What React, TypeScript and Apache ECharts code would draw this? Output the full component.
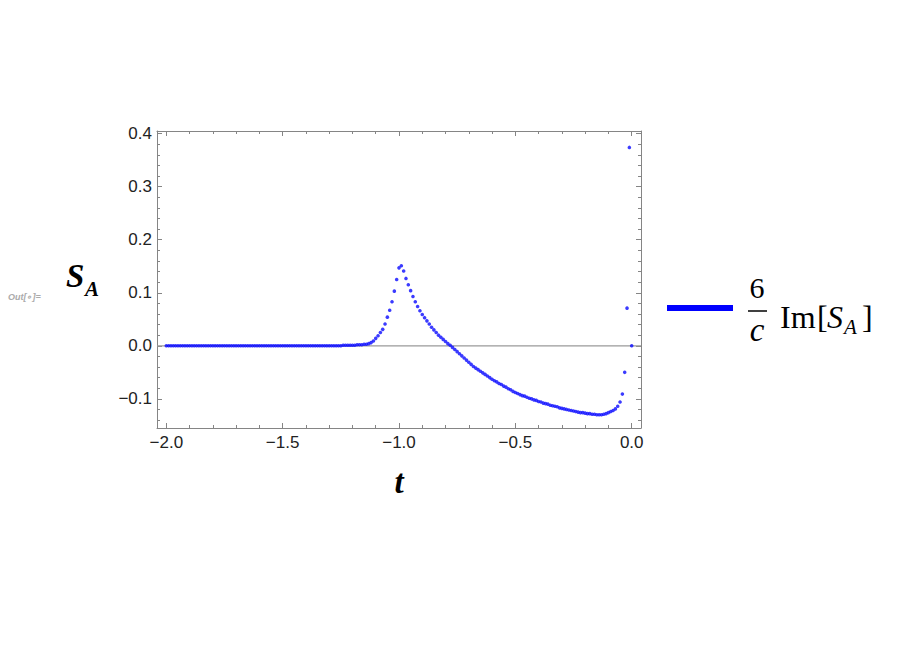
import React, { useEffect, useRef } from "react";
import * as echarts from "echarts";

// ---- data ----
const tFlat = [
  -2.0, -1.99, -1.98, -1.97, -1.96, -1.95, -1.94, -1.93, -1.92, -1.91,
  -1.9, -1.89, -1.88, -1.87, -1.86, -1.85, -1.84, -1.83, -1.82, -1.81,
  -1.8, -1.79, -1.78, -1.77, -1.76, -1.75, -1.74, -1.73, -1.72, -1.71,
  -1.7, -1.69, -1.68, -1.67, -1.66, -1.65, -1.64, -1.63, -1.62, -1.61,
  -1.6, -1.59, -1.58, -1.57, -1.56, -1.55, -1.54, -1.53, -1.52, -1.51,
  -1.5, -1.49, -1.48, -1.47, -1.46, -1.45, -1.44, -1.43, -1.42, -1.41,
  -1.4, -1.39, -1.38, -1.37, -1.36, -1.35, -1.34, -1.33, -1.32, -1.31,
  -1.3, -1.29, -1.28, -1.27, -1.26, -1.25, -1.24, -1.23, -1.22, -1.21,
];
const vFlat = [
  0, 0, 0, 0, 0, 0, 0, 0, 0, 0,
  0, 0, 0, 0, 0, 0, 0, 0, 0, 0,
  0, 0, 0, 0, 0, 0, 0, 0, 0, 0,
  0, 0, 0, 0, 0, 0, 0, 0, 0, 0,
  0, 0, 0, 0, 0, 0, 0, 0, 0, 0,
  0, 0, 0, 0, 0, 0, 0, 0, 0, 0,
  0, 0, 0, 0, 0, 0, 0, 0, 0, 0,
  0, 0, 0, 0, 0, 0, 0.001, 0.001, 0.001, 0.001,
];
const tRise = [
  -1.2, -1.19, -1.18, -1.17, -1.16, -1.15, -1.14, -1.13, -1.12, -1.11,
  -1.1, -1.09, -1.08, -1.07, -1.06, -1.05, -1.04, -1.03, -1.02, -1.01,
  -1.0, -0.99,
];
const vRise = [
  0.001, 0.001, 0.002, 0.002, 0.002, 0.003, 0.003, 0.004, 0.006, 0.009,
  0.014, 0.019, 0.025, 0.031, 0.041, 0.054, 0.067, 0.083, 0.103, 0.125,
  0.147, 0.151,
];
const tFall = [
  -0.98, -0.97, -0.96, -0.95, -0.94, -0.93, -0.92, -0.91, -0.9, -0.89,
  -0.88, -0.87, -0.86, -0.85, -0.84, -0.83, -0.82, -0.81, -0.8, -0.79,
  -0.78,
];
const vFall = [
  0.141, 0.127, 0.115, 0.104, 0.093, 0.083, 0.074, 0.066, 0.059, 0.053,
  0.047, 0.041, 0.035, 0.03, 0.025, 0.02, 0.016, 0.012, 0.008, 0.004,
  0.001,
];
const tDip = [
  -0.77, -0.76, -0.75, -0.74, -0.73, -0.72, -0.71, -0.7, -0.69, -0.68,
  -0.67, -0.66, -0.65, -0.64, -0.63, -0.62, -0.61, -0.6, -0.59, -0.58,
  -0.57, -0.56, -0.55, -0.54, -0.53, -0.52, -0.51, -0.5, -0.49, -0.48,
  -0.47, -0.46, -0.45, -0.44, -0.43, -0.42, -0.41, -0.4, -0.39, -0.38,
  -0.37, -0.36, -0.35, -0.34, -0.33, -0.32, -0.31, -0.3, -0.29, -0.28,
  -0.27, -0.26, -0.25, -0.24, -0.23, -0.22, -0.21, -0.2, -0.19, -0.18,
  -0.17, -0.16, -0.15, -0.14, -0.13, -0.12, -0.11, -0.1, -0.09, -0.08,
  -0.07, -0.06, -0.05,
];
const vDip = [
  -0.003, -0.007, -0.011, -0.015, -0.019, -0.023, -0.027, -0.031, -0.035, -0.039,
  -0.042, -0.045, -0.048, -0.051, -0.054, -0.057, -0.06, -0.063, -0.066, -0.068,
  -0.071, -0.073, -0.076, -0.078, -0.081, -0.083, -0.086, -0.088, -0.09, -0.092,
  -0.094, -0.095, -0.097, -0.099, -0.1, -0.102, -0.103, -0.105, -0.106, -0.108,
  -0.109, -0.11, -0.112, -0.113, -0.114, -0.115, -0.117, -0.118, -0.119, -0.12,
  -0.121, -0.122, -0.123, -0.124, -0.125, -0.126, -0.126, -0.127, -0.128, -0.128,
  -0.129, -0.129, -0.13, -0.13, -0.13, -0.129, -0.128, -0.126, -0.124, -0.122,
  -0.119, -0.114, -0.106,
];
const tEdge = [-0.04, -0.03, -0.02, -0.01, 0.0];
const vEdge = [-0.091, -0.05, 0.071, 0.374, 0.0];

// ---- axis ticks ----
const xMajor = [-2.0, -1.5, -1.0, -0.5, 0.0];
const xMinor = [
  -1.9, -1.8, -1.7, -1.6, -1.4, -1.3, -1.2, -1.1, -0.9, -0.8, -0.7, -0.6,
  -0.4, -0.3, -0.2, -0.1,
];
const yMajor = [-0.1, 0.0, 0.1, 0.2, 0.3, 0.4];
const yMinor = [
  -0.14, -0.12, -0.08, -0.06, -0.04, -0.02, 0.02, 0.04, 0.06, 0.08, 0.12,
  0.14, 0.16, 0.18, 0.22, 0.24, 0.26, 0.28, 0.32, 0.34, 0.36, 0.38,
];
const X_MIN = -2.04;
const X_MAX = 0.04;
const Y_MIN = -0.155;
const Y_MAX = 0.405;

const SANS = '"Liberation Sans", Arial, sans-serif';
const SERIF = '"Liberation Serif", "Times New Roman", serif';
const FRAME = "#858585";
const LABEL = "#222222";

const fmt = (v: number) => (v < 0 ? "\u2212" : "") + Math.abs(v).toFixed(1);

function xAxisDef(position: string, ticks: number[], len: number, labels: boolean, line: boolean) {
  return {
    type: "value",
    position,
    min: X_MIN,
    max: X_MAX,
    axisLine: { show: line, onZero: false, lineStyle: { color: FRAME, width: 1 } },
    axisTick: { show: true, inside: true, length: len, customValues: ticks, lineStyle: { color: FRAME, width: 1 } },
    axisLabel: labels
      ? { show: true, customValues: ticks, formatter: fmt, color: LABEL, fontSize: 17, fontFamily: SANS, margin: 6 }
      : { show: false },
    splitLine: { show: false },
  };
}
function yAxisDef(position: string, ticks: number[], len: number, labels: boolean, line: boolean) {
  return {
    type: "value",
    position,
    min: Y_MIN,
    max: Y_MAX,
    axisLine: { show: line, onZero: false, lineStyle: { color: FRAME, width: 1 } },
    axisTick: { show: true, inside: true, length: len, customValues: ticks, lineStyle: { color: FRAME, width: 1 } },
    axisLabel: labels
      ? { show: true, customValues: ticks, formatter: fmt, color: LABEL, fontSize: 17, fontFamily: SANS, margin: 5 }
      : { show: false },
    splitLine: { show: false },
  };
}

export default function App() {
  const ref = useRef<HTMLDivElement>(null);
  useEffect(() => {
    document.body.style.margin = "0";
    if (!ref.current) return;
    const chart = echarts.init(ref.current, null, { renderer: "svg" });
    const T = [...tFlat, ...tRise, ...tFall, ...tDip, ...tEdge];
    const V = [...vFlat, ...vRise, ...vFall, ...vDip, ...vEdge];
    const points = T.map((t, i) => [t, V[i]]);
    chart.setOption({
      animation: false,
      backgroundColor: "#ffffff",
      grid: { left: 157, top: 131, width: 484, height: 297 },
      xAxis: [
        xAxisDef("bottom", xMajor, 5, true, true),
        xAxisDef("bottom", xMinor, 3, false, false),
        xAxisDef("top", xMajor, 5, false, true),
        xAxisDef("top", xMinor, 3, false, false),
      ],
      yAxis: [
        yAxisDef("left", yMajor, 5, true, true),
        yAxisDef("left", yMinor, 3, false, false),
        yAxisDef("right", yMajor, 5, false, true),
        yAxisDef("right", yMinor, 3, false, false),
      ],
      series: [
        {
          type: "line",
          xAxisIndex: 0,
          yAxisIndex: 0,
          data: [
            [X_MIN, 0],
            [X_MAX, 0],
          ],
          symbol: "none",
          silent: true,
          lineStyle: { color: "#9a9a9a", width: 1.2 },
          z: 1,
        },
        {
          type: "scatter",
          xAxisIndex: 0,
          yAxisIndex: 0,
          data: points,
          symbol: "circle",
          symbolSize: 3.6,
          itemStyle: { color: "#0a0aff" },
          silent: true,
          z: 2,
        },
      ],
      graphic: [
        {
          type: "text",
          x: 8,
          y: 297,
          style: { text: "Out[\u2218]=", fill: "#ababab", fontSize: 9, fontStyle: "italic", fontWeight: "bold", fontFamily: SANS, align: "left", verticalAlign: "middle" },
        },
        {
          type: "text",
          x: 66,
          y: 276,
          style: { text: "S", fill: "#000", fontSize: 33, fontStyle: "italic", fontWeight: "bold", fontFamily: SERIF, align: "left", verticalAlign: "middle" },
        },
        {
          type: "text",
          x: 85,
          y: 289,
          style: { text: "A", fill: "#000", fontSize: 21, fontStyle: "italic", fontWeight: "bold", fontFamily: SERIF, align: "left", verticalAlign: "middle" },
        },
        {
          type: "text",
          x: 399,
          y: 482,
          style: { text: "t", fill: "#000", fontSize: 33, fontStyle: "italic", fontWeight: "bold", fontFamily: SERIF, align: "center", verticalAlign: "middle" },
        },
        {
          type: "line",
          shape: { x1: 667, y1: 308, x2: 733, y2: 308 },
          style: { stroke: "#0000ff", lineWidth: 6 },
        },
        {
          type: "text",
          x: 757,
          y: 287,
          style: { text: "6", fill: "#000", fontSize: 30, fontFamily: SERIF, align: "center", verticalAlign: "middle" },
        },
        {
          type: "line",
          shape: { x1: 748, y1: 311, x2: 767, y2: 311 },
          style: { stroke: "#000", lineWidth: 1.5 },
        },
        {
          type: "text",
          x: 757,
          y: 330,
          style: { text: "c", fill: "#000", fontSize: 33, fontStyle: "italic", fontFamily: SERIF, align: "center", verticalAlign: "middle" },
        },
        {
          type: "text",
          x: 780,
          y: 317,
          style: { text: "Im", fill: "#000", fontSize: 32, fontFamily: SERIF, align: "left", verticalAlign: "middle" },
        },
        {
          type: "text",
          x: 817,
          y: 317,
          style: { text: "[", fill: "#000", fontSize: 32, fontFamily: SERIF, align: "left", verticalAlign: "middle" },
        },
        {
          type: "text",
          x: 827,
          y: 317,
          style: { text: "S", fill: "#000", fontSize: 32, fontStyle: "italic", fontFamily: SERIF, align: "left", verticalAlign: "middle" },
        },
        {
          type: "text",
          x: 844,
          y: 327,
          style: { text: "A", fill: "#000", fontSize: 21, fontStyle: "italic", fontFamily: SERIF, align: "left", verticalAlign: "middle" },
        },
        {
          type: "text",
          x: 862,
          y: 317,
          style: { text: "]", fill: "#000", fontSize: 32, fontFamily: SERIF, align: "left", verticalAlign: "middle" },
        },
      ],
    });
    return () => chart.dispose();
  }, []);
  return <div ref={ref} style={{ width: 913, height: 646 }} />;
}
